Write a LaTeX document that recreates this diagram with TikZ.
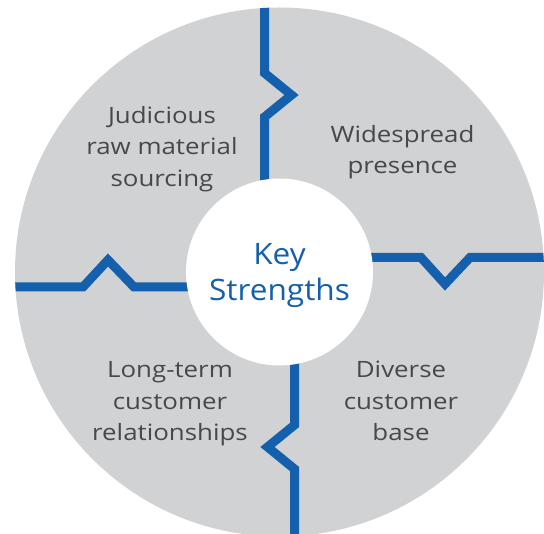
\documentclass[tikz,border=0pt]{standalone}
\usepackage{fontspec}
\setmainfont{Open Sans}
\newfontfamily\kslabelfont[FakeStretch=1.15]{Open Sans}
\newfontfamily\kskeyfont[FakeStretch=1.07]{Open Sans}
\definecolor{ksgray}{HTML}{D1D2D4}
\definecolor{ksblue}{HTML}{1560AC}
\definecolor{kstext}{HTML}{48484A}
\tikzset{
  divider/.style={draw=ksblue, line width=9pt, miter limit=10},
  label/.style={text=kstext, align=center, inner sep=0pt, font=\kslabelfont\fontsize{22.5}{31.5}\selectfont},
  keylabel/.style={text=ksblue, align=center, inner sep=0pt, font=\kskeyfont\fontsize{29.5}{36.5}\selectfont}
}
\begin{document}
\begin{tikzpicture}[x=1pt,y=-1pt]
\useasboundingbox (0,0) rectangle (544,534);
\node[circle, fill=ksgray, minimum size=529pt, inner sep=0pt] (outer) at (279.5,272) {};
\begin{scope}
  \clip (279.5,272) circle[radius=264.5pt];
  \draw[divider] (264.5,0) -- (264.5,73) -- (291.5,95) -- (264.5,117) -- (264.5,272);
  \draw[divider] (294.5,272) -- (294.5,425) -- (267.5,447) -- (294.5,469) -- (294.5,545);
  \draw[divider] (0,287) -- (83,287) -- (108,260) -- (134,287) -- (279.5,287);
  \draw[divider] (279.5,257.5) -- (421,257.5) -- (445,284) -- (470,257.5) -- (550,257.5);
\end{scope}
\node[circle, fill=white, minimum size=187pt, inner sep=0pt] (inner) at (279.5,272) {};
\node[keylabel] (key) at (279.5,275.5) {Key\\Strengths};
\node[label] (judicious) at (162,148.8) {Judicious\\raw material\\sourcing};
\node[label] (widespread) at (402.5,152.3) {Widespread\\presence};
\node[label] (longterm) at (170,403.8) {Long-term\\customer\\relationships};
\node[label] (diverse) at (401,401) {Diverse\\customer\\base};
\end{tikzpicture}
\end{document}
